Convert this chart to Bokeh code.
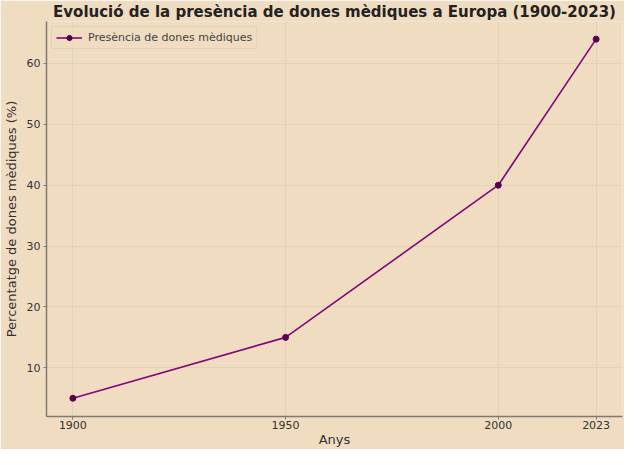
from bokeh.plotting import figure
from bokeh.embed import file_html
from bokeh.resources import INLINE
from bokeh.models import Range1d, FixedTicker, Legend, LegendItem

years = [1900, 1950, 2000, 2023]
percent = [5, 15, 40, 64]
series_name = "Presència de dones mèdiques"
x_ticks = [1900, 1950, 2000, 2023]
y_ticks = [10, 20, 30, 40, 50, 60]
x_label = "Anys"
y_label = "Percentatge de dones mèdiques (%)"

BG = "#efdcc1"
LINE = "#800878"
FONT = "DejaVu Sans"

p = figure(width=624, height=449, output_backend="svg", toolbar_location=None,
           x_range=Range1d(1893.8, 2029.2), y_range=Range1d(2.0, 66.9),
           min_border_left=42, min_border_right=2, min_border_top=20, min_border_bottom=28)
p.background_fill_color = BG
p.border_fill_color = BG
p.outline_line_color = None

p.title.text = "Evolució de la presència de dones mèdiques a Europa (1900-2023)"
p.title.text_font = FONT
p.title.text_font_size = "15px"
p.title.text_font_style = "bold"
p.title.align = "center"
p.title.text_color = "#222222"
p.title.offset = 0
p.title.standoff = 1

ln = p.line(years, percent, line_color=LINE, line_width=1.6)
sc = p.scatter(years, percent, size=6, fill_color="#5a0050", line_color="#5a0050")

for ax in (p.xaxis[0], p.yaxis[0]):
    ax.axis_line_color = "#7f7a72"
    ax.axis_line_width = 1.5
    ax.major_tick_line_color = "#7f7a72"
    ax.minor_tick_line_color = None
    ax.major_tick_in = 0
    ax.major_tick_out = 3
    ax.major_label_text_font = FONT
    ax.major_label_text_font_size = "11px"
    ax.major_label_text_color = "#333333"
    ax.axis_label_text_font = FONT
    ax.axis_label_text_font_size = "13px"
    ax.axis_label_text_font_style = "normal"
    ax.axis_label_text_color = "#333333"

p.xaxis.ticker = FixedTicker(ticks=x_ticks)
p.yaxis.ticker = FixedTicker(ticks=y_ticks)
p.xaxis.axis_label = x_label
p.yaxis.axis_label = y_label
p.xaxis.major_label_standoff = 1
p.xaxis.axis_label_standoff = 0
p.yaxis.major_label_standoff = 3
p.yaxis.axis_label_standoff = 5

p.xgrid.ticker = FixedTicker(ticks=x_ticks)
p.ygrid.ticker = FixedTicker(ticks=y_ticks)
p.grid.grid_line_color = "#d9cbb4"
p.grid.grid_line_alpha = 0.6
p.grid.grid_line_width = 1

legend = Legend(items=[LegendItem(label=series_name, renderers=[ln, sc])],
                location="top_left")
legend.label_text_font = FONT
legend.label_text_font_size = "11px"
legend.label_text_color = "#444444"
legend.background_fill_color = BG
legend.background_fill_alpha = 0.8
legend.border_line_color = "#d6c8b2"
legend.margin = 5
legend.padding = 4
legend.glyph_width = 26
legend.glyph_height = 13
legend.label_height = 13
legend.label_standoff = 6
legend.spacing = 0
p.add_layout(legend)

open("out.html", "w").write(file_html(p, INLINE))
